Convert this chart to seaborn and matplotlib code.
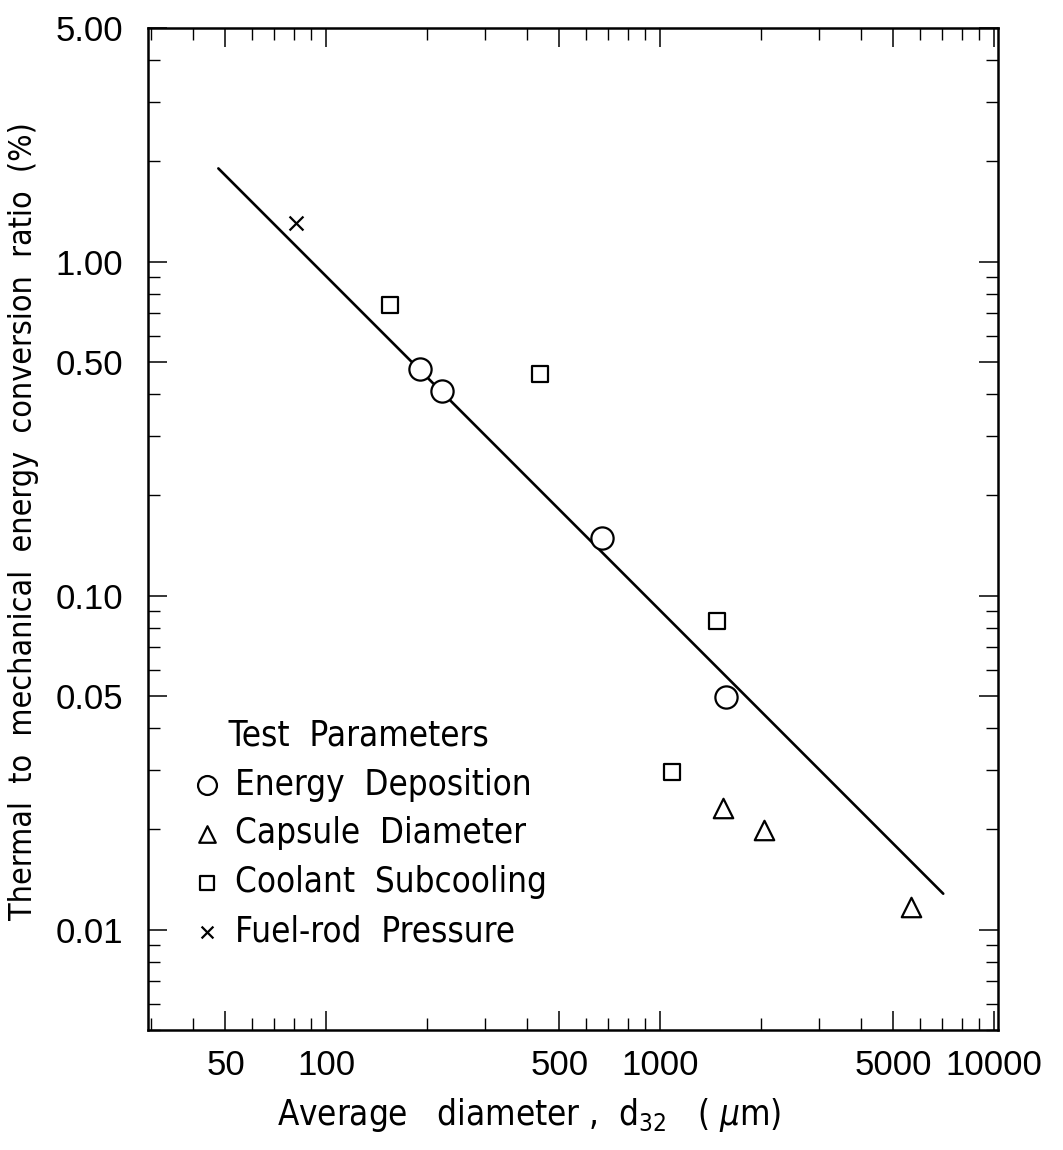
import matplotlib
matplotlib.use("Agg")
import matplotlib.pyplot as plt
import matplotlib.ticker as mticker
import seaborn as sns
import numpy as np

# ---- data ----
energy_x = [191, 222, 671, 1574]
energy_y = [0.476, 0.410, 0.149, 0.0497]
capsule_x = [1542, 2046, 5636]
capsule_y = [0.0231, 0.0199, 0.0117]
coolant_x = [155.5, 437.6, 1084, 1479]
coolant_y = [0.743, 0.462, 0.0296, 0.0839]
fuel_x = [81.3]
fuel_y = [1.30]
fit_x = [47.6, 7050]
fit_y = [1.90, 0.0128]

x_ticks = [50, 100, 500, 1000, 5000, 10000]
x_tick_labels = ["50", "100", "500", "1000", "5000", "10000"]
y_ticks = [0.01, 0.05, 0.10, 0.50, 1.00, 5.00]
y_tick_labels = ["0.01", "0.05", "0.10", "0.50", "1.00", "5.00"]

sns.set_style("white")
plt.rcParams["font.family"] = ["DejaVu Sans"]
plt.rcParams["font.stretch"] = "condensed"
for k in ["text.color", "axes.labelcolor", "xtick.color", "ytick.color", "axes.edgecolor"]:
    plt.rcParams[k] = "black"

fig = plt.figure(figsize=(10.63, 11.5), dpi=100)
ax = fig.add_axes([0.1392, 0.1043, 0.7996, 0.8713])

sns.lineplot(x=fit_x, y=fit_y, ax=ax, color="black", linewidth=1.9, zorder=2)

sns.scatterplot(x=energy_x, y=energy_y, ax=ax, marker="o", s=16**2,
                facecolor="white", edgecolor="black", linewidth=1.6,
                label="Energy  Deposition", zorder=3)
sns.scatterplot(x=capsule_x, y=capsule_y, ax=ax, marker="^", s=14**2,
                facecolor="white", edgecolor="black", linewidth=1.6,
                label="Capsule  Diameter", zorder=3)
sns.scatterplot(x=coolant_x, y=coolant_y, ax=ax, marker="s", s=12**2,
                facecolor="white", edgecolor="black", linewidth=1.6,
                label="Coolant  Subcooling", zorder=3)
sns.scatterplot(x=fuel_x, y=fuel_y, ax=ax, marker="x", s=10**2,
                color="black", linewidth=1.6,
                label="Fuel-rod  Pressure", zorder=3)

ax.set_xscale("log")
ax.set_yscale("log")
ax.set_xlim(29.3, 10280)
ax.set_ylim(0.005, 5.0)

ax.xaxis.set_major_locator(mticker.FixedLocator(x_ticks))
ax.xaxis.set_major_formatter(mticker.FixedFormatter(x_tick_labels))
ax.xaxis.set_minor_locator(mticker.LogLocator(base=10, subs=np.arange(2, 10)))
ax.xaxis.set_minor_formatter(mticker.NullFormatter())
ax.yaxis.set_major_locator(mticker.FixedLocator(y_ticks))
ax.yaxis.set_major_formatter(mticker.FixedFormatter(y_tick_labels))
ax.yaxis.set_minor_locator(mticker.LogLocator(base=10, subs=np.arange(2, 10)))
ax.yaxis.set_minor_formatter(mticker.NullFormatter())

ax.tick_params(which="both", direction="in", top=True, right=True,
               bottom=True, left=True, color="black")
ax.tick_params(which="major", length=14, width=1.1, pad=14)
ax.tick_params(which="minor", length=8.5, width=1.0)
ax.tick_params(axis="y", which="major", pad=18)
for lab in ax.get_xticklabels() + ax.get_yticklabels():
    lab.set_family(["Liberation Sans", "DejaVu Sans"])
    lab.set_stretch("normal")
    lab.set_fontsize(25)

for sp in ax.spines.values():
    sp.set_visible(True)
    sp.set_color("black")
    sp.set_linewidth(1.8)

ax.set_xlabel(r"Average   diameter ,  d$_{32}$   ( $\mu$m)", fontsize=25)
ax.xaxis.set_label_coords(0.448, -0.066)
ax.set_ylabel("Thermal  to  mechanical  energy  conversion  ratio  (%)", fontsize=23)
ax.yaxis.set_label_coords(-0.128, 0.508)

leg = ax.legend(title="    Test  Parameters", frameon=False, loc="upper left",
                bbox_to_anchor=(0.012, 0.342), fontsize=25, title_fontsize=25,
                markerscale=0.85, handletextpad=0.3, labelspacing=0.43,
                handlelength=1.0)
leg._legend_box.align = "left"

fig.savefig("out.png", dpi=100, facecolor="white")
